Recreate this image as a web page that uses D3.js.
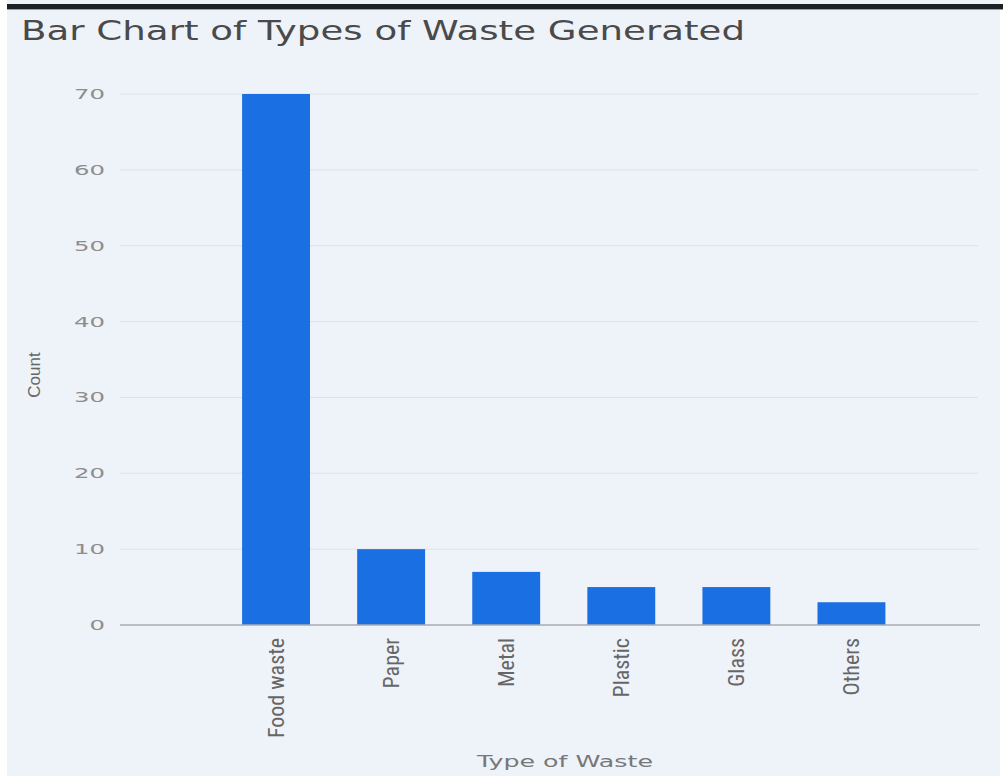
<!DOCTYPE html>
<html>
<head>
<meta charset="utf-8">
<script src="https://cdn.jsdelivr.net/npm/d3@7"></script>
<style>
  body { margin: 0; background: #fff; }
  svg { display: block; }
</style>
</head>
<body>
<script>
// data
let categories = ["Food waste", "Paper", "Metal", "Plastic", "Glass", "Others"];
let counts = [70, 10, 7, 5, 5, 3];
let yTicks = [0, 10, 20, 30, 40, 50, 60, 70];

let width = 1003,
    height = 776,
    plotLeft = 120,
    plotRight = 978,
    plotTop = 94,
    plotBottom = 625;

let svg = d3.select('body')
    .append('svg')
    .attr('width', width)
    .attr('height', height);

// background panel + black strip on top
svg.append('rect')
    .attr('x', 7).attr('y', 0)
    .attr('width', width - 10).attr('height', height)
    .attr('fill', '#eef2f9');
svg.append('rect')
    .attr('x', 7).attr('y', 4)
    .attr('width', width - 7).attr('height', 5)
    .attr('fill', '#1d2126');
svg.append('rect')
    .attr('x', 7).attr('y', 9)
    .attr('width', width - 7).attr('height', 1)
    .attr('fill', '#9aa0a8');

// title
svg.append('text')
    .attr('x', 21).attr('y', 40)
    .attr('font-family', '"DejaVu Sans", sans-serif')
    .attr('font-size', 27)
    .attr('fill', '#4a4a4a')
    .attr('textLength', 724)
    .attr('lengthAdjust', 'spacingAndGlyphs')
    .text('Bar Chart of Types of Waste Generated');

// scales
let x = d3.scaleBand()
    .domain(categories)
    .range([218.5, 909])
    .paddingInner(0.41)
    .paddingOuter(0.205);
let y = d3.scaleLinear().domain([0, 70]).range([plotBottom, plotTop]);

// gridlines
svg.append('g')
    .selectAll('line')
    .data(yTicks.filter(d => d > 0))
    .enter()
    .append('line')
    .attr('x1', plotLeft).attr('x2', plotRight)
    .attr('y1', d => y(d)).attr('y2', d => y(d))
    .attr('stroke', '#dde2ea')
    .attr('stroke-width', 1);

// y axis labels (wide geometric digits in the original)
let axisY = d3.axisLeft(y).tickValues(yTicks).tickSize(0).tickPadding(15);
let gy = svg.append('g').attr('transform', `translate(${plotLeft},0)`).call(axisY);
gy.select('.domain').remove();
gy.selectAll('text')
    .attr('font-family', '"DejaVu Sans", sans-serif')
    .attr('font-size', 14)
    .attr('fill', '#8d8d8d')
    .attr('textLength', d => String(d).length * 15.5)
    .attr('lengthAdjust', 'spacingAndGlyphs');

// bars
svg.selectAll('rect.bar')
    .data(categories)
    .enter()
    .append('rect')
    .attr('class', 'bar')
    .attr('x', d => x(d))
    .attr('y', (d, i) => y(counts[i]))
    .attr('width', x.bandwidth())
    .attr('height', (d, i) => plotBottom - y(counts[i]))
    .attr('fill', '#1a6fe3');

// x axis line
svg.append('line')
    .attr('x1', plotLeft).attr('x2', plotRight + 2)
    .attr('y1', plotBottom).attr('y2', plotBottom)
    .attr('stroke', '#a8abb0')
    .attr('stroke-width', 1.5);

// x axis labels (rotated)
let axisX = d3.axisBottom(x).tickSize(0).tickPadding(0);
let gx = svg.append('g').attr('transform', `translate(0,${plotBottom})`).call(axisX);
gx.select('.domain').remove();
gx.selectAll('text')
    .attr('font-family', '"Liberation Sans Narrow", "Roboto Condensed", sans-serif')
    .attr('font-size', 22)
    .attr('fill', '#666')
    .attr('transform', 'rotate(-90)')
    .attr('x', -13)
    .attr('y', 0)
    .attr('dy', '0.35em')
    .attr('text-anchor', 'end');

// axis titles
svg.append('text')
    .attr('x', 477).attr('y', 767)
    .attr('font-family', '"DejaVu Sans", sans-serif')
    .attr('font-size', 15)
    .attr('fill', '#777')
    .attr('textLength', 176)
    .attr('lengthAdjust', 'spacingAndGlyphs')
    .text('Type of Waste');

svg.append('text')
    .attr('transform', 'translate(40,375) rotate(-90)')
    .attr('text-anchor', 'middle')
    .attr('font-family', '"Liberation Sans Narrow", sans-serif')
    .attr('font-size', 17)
    .attr('fill', '#666')
    .text('Count');
</script>
</body>
</html>
